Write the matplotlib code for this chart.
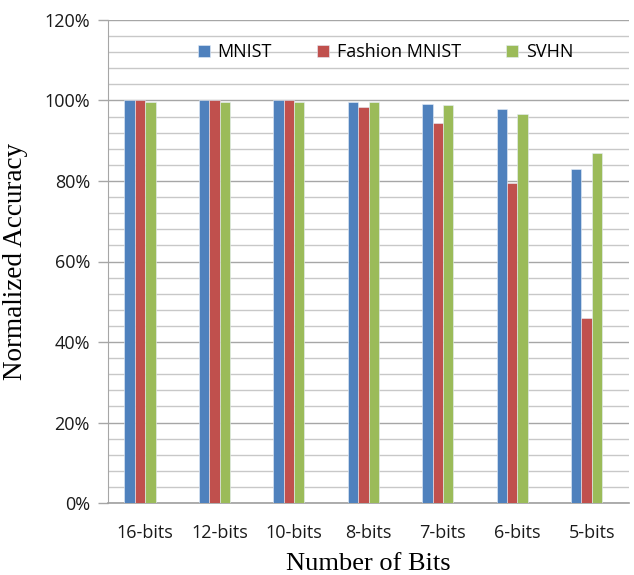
import matplotlib
matplotlib.use("Agg")
import matplotlib.pyplot as plt
import numpy as np
from matplotlib.ticker import MultipleLocator, FuncFormatter

categories = ["16-bits", "12-bits", "10-bits", "8-bits", "7-bits", "6-bits", "5-bits"]
series_names = ["MNIST", "Fashion MNIST", "SVHN"]
mnist = [100.0, 100.0, 100.0, 99.7, 99.2, 97.8, 83.1]
fashion = [100.0, 100.0, 100.0, 98.3, 94.4, 79.5, 45.9]
svhn = [99.7, 99.7, 99.7, 99.7, 98.8, 96.7, 87.0]
colors = ["#4F81BD", "#C0504D", "#9BBB59"]

fig = plt.figure(figsize=(6.34, 5.75), dpi=100)
ax = fig.add_axes([108/634, 72/575, (629-108)/634, (503-20)/575])

x = np.arange(len(categories))
w = 0.14
offsets = [-1.5*w, -0.5*w, 0.5*w]
for vals, name, c, off in zip([mnist, fashion, svhn], series_names, colors, offsets):
    ax.bar(x + off, vals, width=w, color=c, label=name, zorder=3,
           edgecolor="#e6eef8", linewidth=0.4)

ax.set_xlim(-0.5, len(categories) - 0.5)
ax.set_ylim(0, 120)
ax.yaxis.set_major_locator(MultipleLocator(20))
ax.yaxis.set_minor_locator(MultipleLocator(4))
ax.yaxis.set_major_formatter(FuncFormatter(lambda v, p: f"{int(round(v))}%"))
ax.grid(axis="y", which="major", color="#a6a6a6", linewidth=1.0, zorder=0)
ax.grid(axis="y", which="minor", color="#c8c8c8", linewidth=1.0, zorder=0)
ax.set_axisbelow(True)

ax.set_xticks(x)
ax.set_xticklabels(categories)
ax.tick_params(axis="x", length=0, pad=15, labelsize=13)
ax.tick_params(axis="y", which="major", length=7, width=1, color="#a6a6a6", pad=6, labelsize=13)
ax.tick_params(axis="y", which="minor", length=0)
for lab in ax.get_xticklabels() + ax.get_yticklabels():
    lab.set_fontfamily("Open Sans")
    lab.set_color("#1a1a1a")

for s in ["top", "right"]:
    ax.spines[s].set_visible(False)
ax.spines["left"].set_color("#a6a6a6")
ax.spines["bottom"].set_color("#a0a0a0")
ax.spines["bottom"].set_linewidth(1.2)

ax.set_xlabel("Number of Bits", fontfamily="Liberation Serif", fontsize=19, labelpad=8)
ax.set_ylabel("Normalized Accuracy", fontfamily="Liberation Serif", fontsize=19.5, labelpad=12)

leg = ax.legend(loc="upper center", bbox_to_anchor=(0.533, 0.985), ncol=3, frameon=False,
                prop={"family": "Open Sans", "size": 13}, handlelength=0.65, handleheight=0.65,
                columnspacing=2.5, handletextpad=0.45)

fig.savefig("out.png", dpi=100)
